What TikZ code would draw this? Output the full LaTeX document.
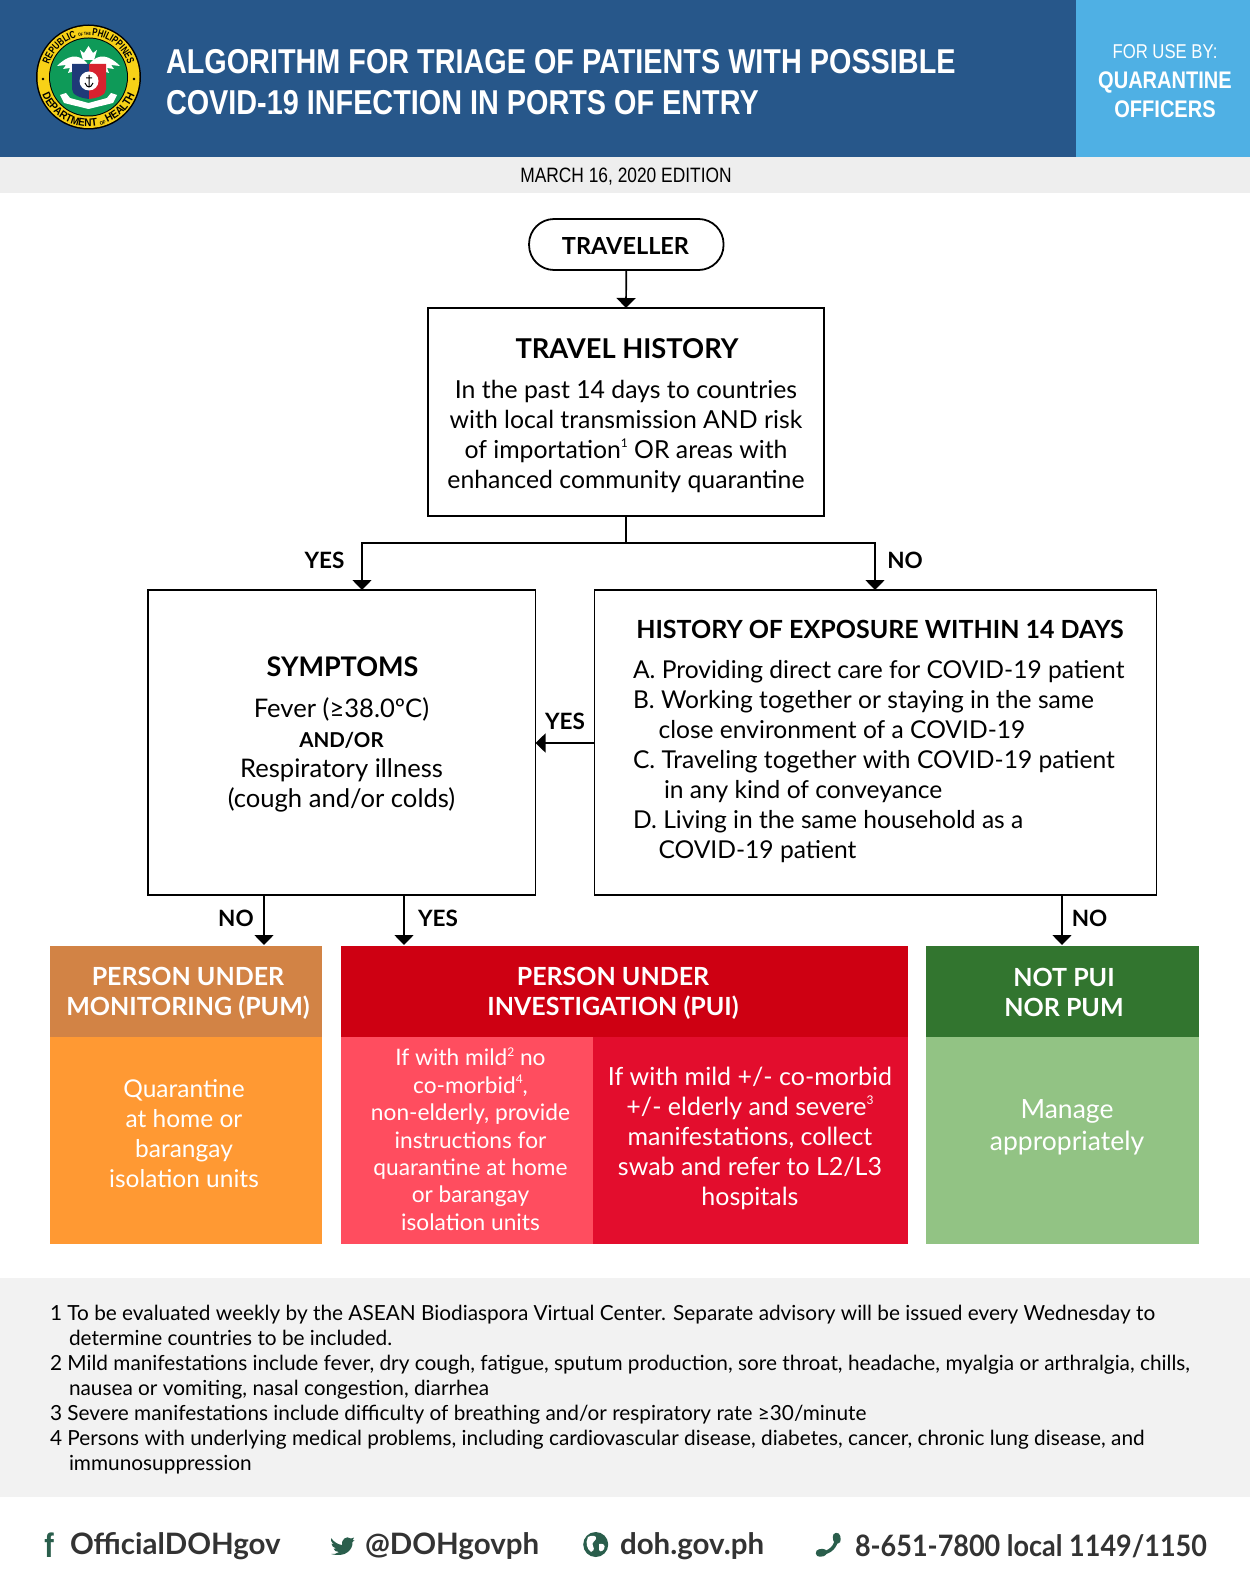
\documentclass[tikz,border=0pt]{standalone}
\usepackage{fontspec}
\usetikzlibrary{arrows.meta,decorations.text}
\setmainfont{Lato}
\newfontfamily\narrowfont[FakeStretch=0.835]{Liberation Sans}
\newfontfamily\sealfont[FakeStretch=0.75]{Liberation Sans}
\newfontfamily\sealwide[FakeStretch=0.9]{Liberation Sans}
\newfontfamily\phonefont[FakeStretch=0.915]{Lato}
\tikzset{>={Triangle[length=10pt,width=19pt]}}
\definecolor{dohblue}{HTML}{27578A}
\definecolor{skyblue}{HTML}{4FB0E4}
\definecolor{bandgray}{HTML}{EEEEEE}
\definecolor{notegray}{HTML}{F2F2F2}
\definecolor{pumhead}{HTML}{D28345}
\definecolor{pumbody}{HTML}{FF9933}
\definecolor{puihead}{HTML}{CE0012}
\definecolor{puimild}{HTML}{FF4D5F}
\definecolor{puisevere}{HTML}{E30D2D}
\definecolor{nothead}{HTML}{32752F}
\definecolor{notbody}{HTML}{92C384}
\definecolor{icongreen}{HTML}{2A5E4C}
\definecolor{footgray}{HTML}{333333}
\definecolor{sealyellow}{HTML}{F7D117}
\definecolor{sealgreen}{HTML}{0E9A58}
\definecolor{sealblue}{HTML}{1F3A78}
\definecolor{sealred}{HTML}{D8222F}
\newcommand{\fs}[2]{\fontsize{#1}{#2}\selectfont}
\newcommand{\supmark}[1]{\raisebox{0.42em}{\fontsize{12}{12}\selectfont #1}}

\begin{document}
\begin{tikzpicture}[x=1pt, y=-1pt]
    \tikzstyle{every node}=[inner sep=0pt, outer sep=0pt]
    \tikzstyle{box}=[draw=black, line width=1.8pt]
    \tikzstyle{flow}=[->, black, line width=1.7pt]
    \tikzstyle{head}=[align=center, text=white, font=\bfseries\fs{25}{30}]
    \tikzstyle{body}=[align=center, font=\fs{24.5}{30}]
    \tikzstyle{answer}=[font=\bfseries\fs{22.5}{24}]
    \tikzstyle{foot}=[anchor=west, text=footgray, font=\bfseries\fs{29.5}{34}]
    \useasboundingbox (0,0) rectangle (1250,1594);
    \fill[white] (0,0) rectangle (1250,1594);

    % header and bands
    \fill[dohblue] (0,0) rectangle (1076,157);
    \fill[skyblue] (1076,0) rectangle (1250,157);
    \fill[bandgray] (0,157) rectangle (1250,193);
    \fill[notegray] (0,1277.5) rectangle (1250,1497);
    \node[anchor=west, align=left, text=white, font=\narrowfont\bfseries\fs{34.5}{41}] (title) at (166,82) {ALGORITHM FOR TRIAGE OF PATIENTS WITH POSSIBLE\\COVID-19 INFECTION IN PORTS OF ENTRY};
    \node[text=white, font=\narrowfont\fs{20}{24}] (useby) at (1165,52) {FOR USE BY:};
    \node[align=center, text=white, font=\narrowfont\bfseries\fs{24}{29.5}] (officers) at (1165,94.5) {QUARANTINE\\OFFICERS};
    \node[font=\narrowfont\fs{20.8}{24}] (edition) at (626,177) {MARCH 16, 2020 EDITION};

    % seal
    \fill[black] (88.5,77) circle (52.5);
    \fill[sealyellow] (88.5,77) circle (51);
    \fill[black] (88.5,77) circle (39.5);
    \fill[sealgreen] (88.5,77) circle (38.5);
    \fill[black] (43,79) circle (1.4);
    \fill[black] (134,79) circle (1.4);
    \fill[white] (87,63) .. controls (78,53) and (68,55) .. (57,66) -- (66,65) -- (63,69) -- (70,68) -- (68,73) -- (75,71) -- (87,68) -- cycle;
    \fill[white] (90,63) .. controls (99,53) and (109,55) .. (120,66) -- (111,65) -- (114,69) -- (107,68) -- (109,73) -- (102,71) -- (90,68) -- cycle;
    \fill[white] (88.5,46) -- (93,53) -- (97,50) -- (94,60) -- (83,60) -- (80,50) -- (84,53) -- cycle;
    \fill[white] (60,95) -- (66,93) -- (70,98) -- (88.5,103) -- (107,98) -- (111,93) -- (117,95) -- (113,103) -- (88.5,109) -- (64,103) -- cycle;
    \fill[sealblue] (72,64) rectangle (89,89) (72,89) .. controls (72,95) and (80,98) .. (89,99) -- (89,89) -- cycle;
    \fill[sealred] (89,64) rectangle (106,89) (106,89) .. controls (106,95) and (98,98) .. (89,99) -- (89,89) -- cycle;
    \fill[white] (89,81) circle (9.5);
    \draw[black, line width=1pt] (89,75) -- (89,87) (85,83) .. controls (86,86) and (88,87) .. (89,87) .. controls (90,87) and (92,86) .. (93,83) (86,78) -- (92,78);
    \path[decorate, decoration={text along path, text align=center, text={|\sealfont\bfseries\fs{10.5}{12}|REPUBLIC |\sealfont\bfseries\fs{4.5}{6}|OF THE |\sealfont\bfseries\fs{10.5}{12}|PHILIPPINES}}] (88.5,77) ++(184:41.5) arc (184:356:41.5);
    \path[decorate, decoration={text along path, text align=center, text={|\sealwide\bfseries\fs{11}{12}|DEPARTMENT |\sealwide\bfseries\fs{5}{6}|OF |\sealwide\bfseries\fs{11}{12}|HEALTH}}] (88.5,77) ++(168:49.5) arc (168:12:49.5);

    % flow boxes
    \node[box, rounded corners=25pt, minimum width=194.5, minimum height=51] (traveller) at (626.3,244.5) {};
    \node[font=\bfseries\fs{23.5}{28}] (travellertext) at (625.5,246) {TRAVELLER};
    \node[box, minimum width=396, minimum height=208] (history) at (626,412) {};
    \node[font=\bfseries\fs{27.3}{32}] (historytitle) at (627,348.5) {TRAVEL HISTORY};
    \node[align=center, font=\fs{24.8}{30}] (historytext) at (626,436) {In the past 14 days to countries\\with local transmission AND risk\\of importation\supmark{1} OR areas with\\enhanced community quarantine};
    \node[box, minimum width=387.5, minimum height=305] (symptoms) at (341.75,742.5) {};
    \node[font=\bfseries\fs{27}{30}] (symptomstitle) at (342.5,667) {SYMPTOMS};
    \node[align=center, font=\fs{25.6}{30}] (symptomstext) at (341.5,755) {Fever (≥38.0ºC)\\{\bfseries\fs{20.5}{30}AND/OR}\\Respiratory illness\\(cough and/or colds)};
    \node[box, minimum width=562, minimum height=305] (exposure) at (875.5,742.5) {};
    \node[font=\bfseries\fs{25}{30}] (exposuretitle) at (880,629) {HISTORY OF EXPOSURE WITHIN 14 DAYS};
    \node[anchor=west, align=left, font=\fs{24.6}{30}] (exposuretext) at (633,762) {A. Providing direct care for COVID-19 patient\\B. Working together or staying in the same\\\hspace*{25.5pt}close environment of a COVID-19\\C. Traveling together with COVID-19 patient\\\hspace*{31pt}in any kind of conveyance\\D. Living in the same household as a\\\hspace*{25.5pt}COVID-19 patient};

    % outcome boxes
    \node[fill=pumhead, minimum width=272, minimum height=91] (pumtop) at (186,991) {};
    \node[fill=pumbody, minimum width=272, minimum height=207] (pumlow) at (186,1140) {};
    \node[fill=puihead, minimum width=567, minimum height=91] (puitop) at (624.5,991) {};
    \node[fill=puimild, minimum width=252, minimum height=207] (puileft) at (467,1140) {};
    \node[fill=puisevere, minimum width=315, minimum height=207] (puiright) at (750.5,1140) {};
    \node[fill=nothead, minimum width=272.5, minimum height=91] (nottop) at (1062.25,991) {};
    \node[fill=notbody, minimum width=272.5, minimum height=207] (notlow) at (1062.25,1140) {};
    \node[head] (pumhead) at (188,993) {PERSON UNDER\\MONITORING (PUM)};
    \node[head] (puihead) at (613,993) {PERSON UNDER\\INVESTIGATION (PUI)};
    \node[head] (nothead) at (1064,992) {NOT PUI\\NOR PUM};
    \node[body, text=white] (pumtext) at (184,1134) {Quarantine\\at home or\\barangay\\isolation units};
    \node[align=center, text=white, font=\fs{22.7}{27.4}] (mildtext) at (470.5,1139) {If with mild\supmark{2} no\\co-morbid\supmark{4},\\non-elderly, provide\\instructions for\\quarantine at home\\or barangay\\isolation units};
    \node[align=center, text=white, font=\fs{25}{30}] (severetext) at (750,1138) {If with mild +/- co-morbid\\+/- elderly and severe\supmark{3}\\manifestations, collect\\swab and refer to L2/L3\\hospitals};
    \node[align=center, text=white, font=\fs{26.5}{31.5}] (managetext) at (1067,1127.5) {Manage\\appropriately};

    % connectors
    \coordinate (split) at (626,543);
    \coordinate (yesin) at (362,590);
    \coordinate (noin) at (875,590);
    \coordinate (exleft) at (594.5,743);
    \coordinate (syright) at (535.5,743);
    \coordinate (sya) at (264,895);
    \coordinate (syb) at (404,895);
    \coordinate (exa) at (1062,895);
    \coordinate (puma) at (264,945);
    \coordinate (puia) at (404,945);
    \coordinate (nota) at (1062,945);
    \draw[flow] (traveller.south) -- (history.north);
    \draw[black, line width=1.7pt] (history.south) -- (split);
    \draw[flow] (split) -| (yesin);
    \draw[flow] (split) -| (noin);
    \draw[flow] (exleft) -- (syright);
    \draw[flow] (sya) -- (puma);
    \draw[flow] (syb) -- (puia);
    \draw[flow] (exa) -- (nota);
    \node[answer] (yes1) at (324.5,560) {YES};
    \node[answer] (no1) at (905,560) {NO};
    \node[answer] (yes2) at (565,721.5) {YES};
    \node[answer] (no2) at (236,918) {NO};
    \node[answer] (yes3) at (438,918) {YES};
    \node[answer] (no3) at (1089.5,918) {NO};

    % notes
    \node[anchor=west, align=left, text=black, font=\fs{20.8}{24.9}] (notes) at (50,1389.5) {1 To be evaluated weekly by the ASEAN Biodiaspora Virtual Center. Separate advisory will be issued every Wednesday to\\\hspace*{19pt}determine countries to be included.\\2 Mild manifestations include fever, dry cough, fatigue, sputum production, sore throat, headache, myalgia or arthralgia, chills,\\\hspace*{19pt}nausea or vomiting, nasal congestion, diarrhea\\3 Severe manifestations include difficulty of breathing and/or respiratory rate ≥30/minute\\4 Persons with underlying medical problems, including cardiovascular disease, diabetes, cancer, chronic lung disease, and\\\hspace*{19pt}immunosuppression};

    % footer
    \node[text=icongreen, font=\narrowfont\bfseries\fs{34}{36}] (ficon) at (49,1545) {f};
    \node[foot] (facebook) at (70,1546) {OfficialDOHgov};
    \fill[icongreen] (331,1538) .. controls (334,1542) and (338,1544.5) .. (342,1545) .. controls (341,1540) and (346,1535) .. (351,1538.5) -- (354,1537.5) -- (352.5,1540.5) -- (354.5,1540) -- (352.5,1542) .. controls (353,1550) and (345,1558) .. (331,1554) .. controls (334,1554.5) and (337,1553.5) .. (339,1552) .. controls (336,1552) and (334,1550.5) .. (333.5,1548.5) -- (336,1548.5) .. controls (333,1547.5) and (331.5,1545.5) .. (331.5,1543.5) -- (334,1544) .. controls (331,1542) and (330.5,1540) .. (331,1538) -- cycle;
    \node[foot] (twitter) at (365,1546) {@DOHgovph};
    \fill[icongreen] (595.7,1544.5) circle (12.5);
    \fill[white] (588,1537) .. controls (592,1534.5) and (597,1535.5) .. (596,1539) .. controls (595,1542) and (591,1542) .. (593,1546) .. controls (595,1549) and (593,1552) .. (591,1552) .. controls (587,1549) and (585,1543) .. (588,1537) -- cycle;
    \fill[white] (599,1544) .. controls (603,1543) and (606,1545) .. (604,1549) .. controls (602,1552) and (599,1552) .. (599,1549) -- cycle;
    \node[foot] (website) at (620,1546) {doh.gov.ph};
    \draw[icongreen, line width=3.5pt] (836.5,1538) .. controls (836.5,1546) and (830,1553) .. (821,1553);
    \draw[icongreen, line width=7.5pt, line cap=round] (836.5,1536.5) -- (837,1540) (819.5,1553) -- (823,1552.5);
    \node[foot, font=\phonefont\bfseries\fs{29.5}{34}] (phone) at (855,1546) {8-651-7800 local 1149/1150};
\end{tikzpicture}
\end{document}
